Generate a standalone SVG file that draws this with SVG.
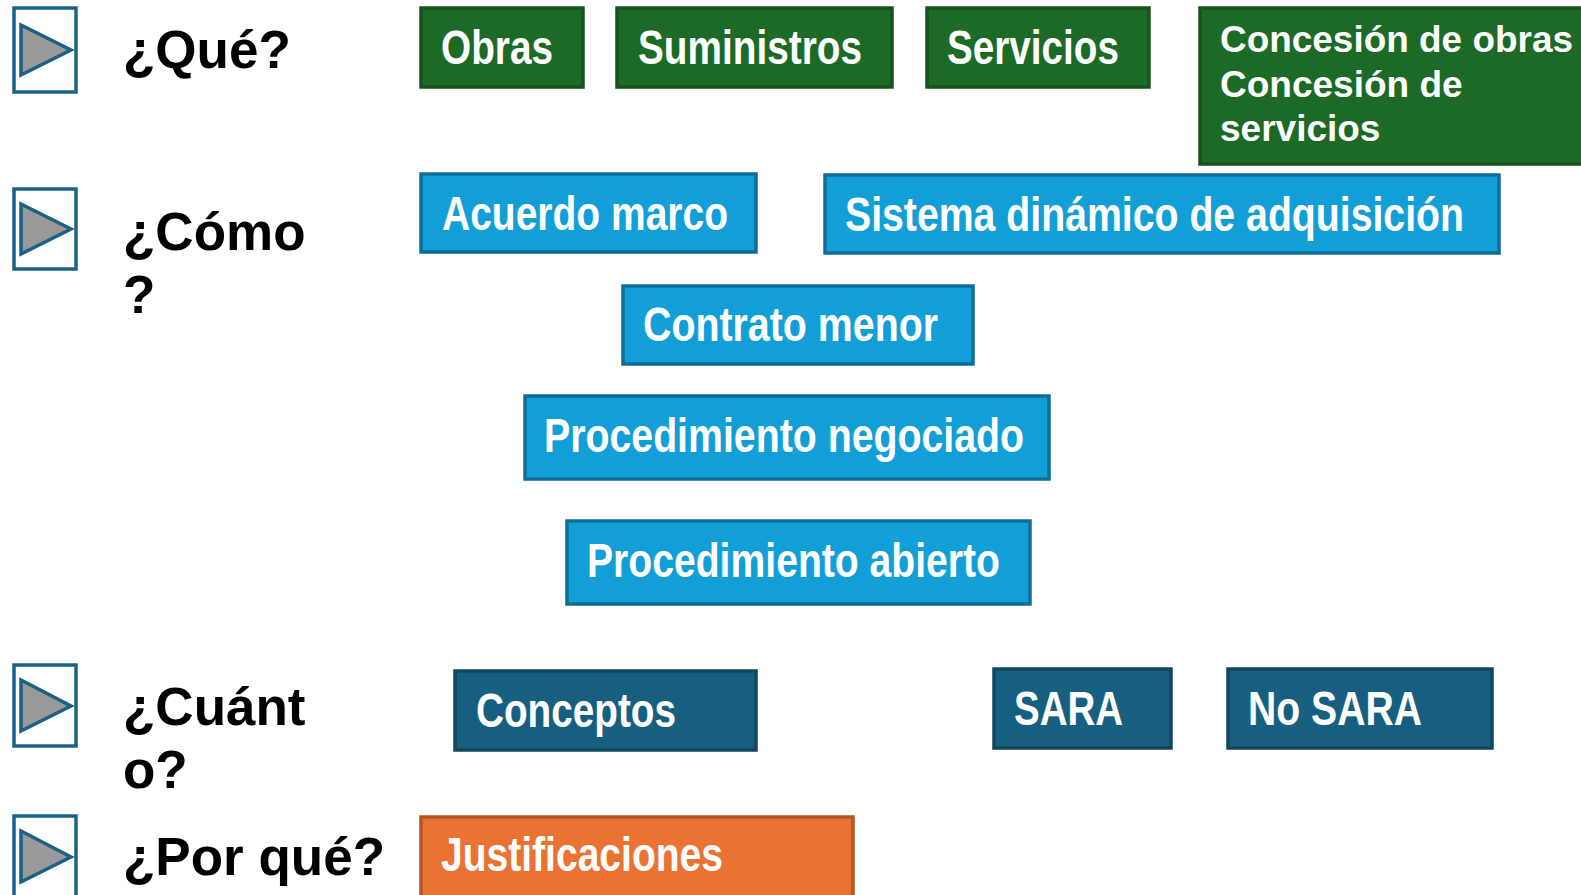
<svg xmlns="http://www.w3.org/2000/svg" width="1581" height="895" viewBox="0 0 1581 895">
<defs>
<style>
.icon rect{fill:#fff;stroke:#1b6185;stroke-width:3.5}
.icon polygon{fill:#999;stroke:#1b6185;stroke-width:3.5;stroke-linejoin:miter}
.lbl{font-family:"Liberation Sans",Arial,sans-serif;font-weight:bold;font-size:53px;fill:#000}
.bt{font-family:"Liberation Sans Narrow","Liberation Sans",Arial,sans-serif;font-weight:bold;font-size:49px;fill:#fff}
.ct{font-family:"Liberation Sans",Arial,sans-serif;font-weight:bold;font-size:37px;fill:#fff}
.g{fill:#1c6a25;stroke:#16531d;stroke-width:3.5}
.b{fill:#129fd7;stroke:#0f6e98;stroke-width:3.5}
.d{fill:#175f80;stroke:#12475f;stroke-width:3.5}
.o{fill:#ea7333;stroke:#b55424;stroke-width:3.5}
</style>
</defs>
<rect width="1581" height="895" fill="#fff"/>
<g id="row-que">
<g class="icon"><rect x="14" y="8" width="62" height="84"/><polygon points="21,25 71,50 21,75"/></g>
<text class="lbl" x="123" y="68">¿Qué?</text>
</g>
<g id="row-como">
<g class="icon"><rect x="14" y="189" width="62" height="80"/><polygon points="21,204 71,229 21,254"/></g>
<text class="lbl" x="123" y="250">¿Cómo</text>
<text class="lbl" x="123" y="313">?</text>
</g>
<g id="row-cuanto">
<g class="icon"><rect x="14" y="665" width="62" height="81"/><polygon points="21,680 71,706 21,731"/></g>
<text class="lbl" x="123" y="725">¿Cuánt</text>
<text class="lbl" x="123" y="788">o?</text>
</g>
<g id="row-porque">
<g class="icon"><rect x="14" y="816" width="62" height="90"/><polygon points="21,831 71,857 21,882"/></g>
<text class="lbl" x="123" y="875">¿Por qué?</text>
</g>
<g id="obras"><rect class="g" x="421" y="8" width="162" height="79"/><text class="bt" x="441" y="64" textLength="112" lengthAdjust="spacingAndGlyphs">Obras</text></g>
<g id="suministros"><rect class="g" x="617" y="8" width="275" height="79"/><text class="bt" x="638" y="64" textLength="224" lengthAdjust="spacingAndGlyphs">Suministros</text></g>
<g id="servicios"><rect class="g" x="927" y="8" width="222" height="79"/><text class="bt" x="947" y="64" textLength="172" lengthAdjust="spacingAndGlyphs">Servicios</text></g>
<g id="concesion"><rect class="g" x="1200" y="8" width="395" height="156"/>
<text class="ct" x="1220" y="52" textLength="353" lengthAdjust="spacingAndGlyphs">Concesión de obras</text>
<text class="ct" x="1220" y="97">Concesión de</text>
<text class="ct" x="1220" y="141">servicios</text></g>
<g id="acuerdo-marco"><rect class="b" x="421" y="174" width="335" height="78"/><text class="bt" x="442" y="230" textLength="286" lengthAdjust="spacingAndGlyphs">Acuerdo marco</text></g>
<g id="sistema-dinamico"><rect class="b" x="825" y="175" width="674" height="78"/><text class="bt" x="845" y="231" textLength="619" lengthAdjust="spacingAndGlyphs">Sistema dinámico de adquisición</text></g>
<g id="contrato-menor"><rect class="b" x="623" y="286" width="350" height="78"/><text class="bt" x="643" y="341" textLength="295" lengthAdjust="spacingAndGlyphs">Contrato menor</text></g>
<g id="proc-negociado"><rect class="b" x="525" y="396" width="524" height="83"/><text class="bt" x="544" y="452" textLength="480" lengthAdjust="spacingAndGlyphs">Procedimiento negociado</text></g>
<g id="proc-abierto"><rect class="b" x="567" y="521" width="463" height="83"/><text class="bt" x="587" y="577" textLength="413" lengthAdjust="spacingAndGlyphs">Procedimiento abierto</text></g>
<g id="conceptos"><rect class="d" x="455" y="671" width="301" height="79"/><text class="bt" x="476" y="727" textLength="200" lengthAdjust="spacingAndGlyphs">Conceptos</text></g>
<g id="sara"><rect class="d" x="994" y="669" width="177" height="79"/><text class="bt" x="1014" y="725" textLength="109" lengthAdjust="spacingAndGlyphs">SARA</text></g>
<g id="no-sara"><rect class="d" x="1228" y="669" width="264" height="79"/><text class="bt" x="1248" y="725" textLength="174" lengthAdjust="spacingAndGlyphs">No SARA</text></g>
<g id="justificaciones"><rect class="o" x="421" y="817" width="432" height="90"/><text class="bt" x="441" y="871" textLength="282" lengthAdjust="spacingAndGlyphs">Justificaciones</text></g>
<g id="connectors"/>
</svg>
